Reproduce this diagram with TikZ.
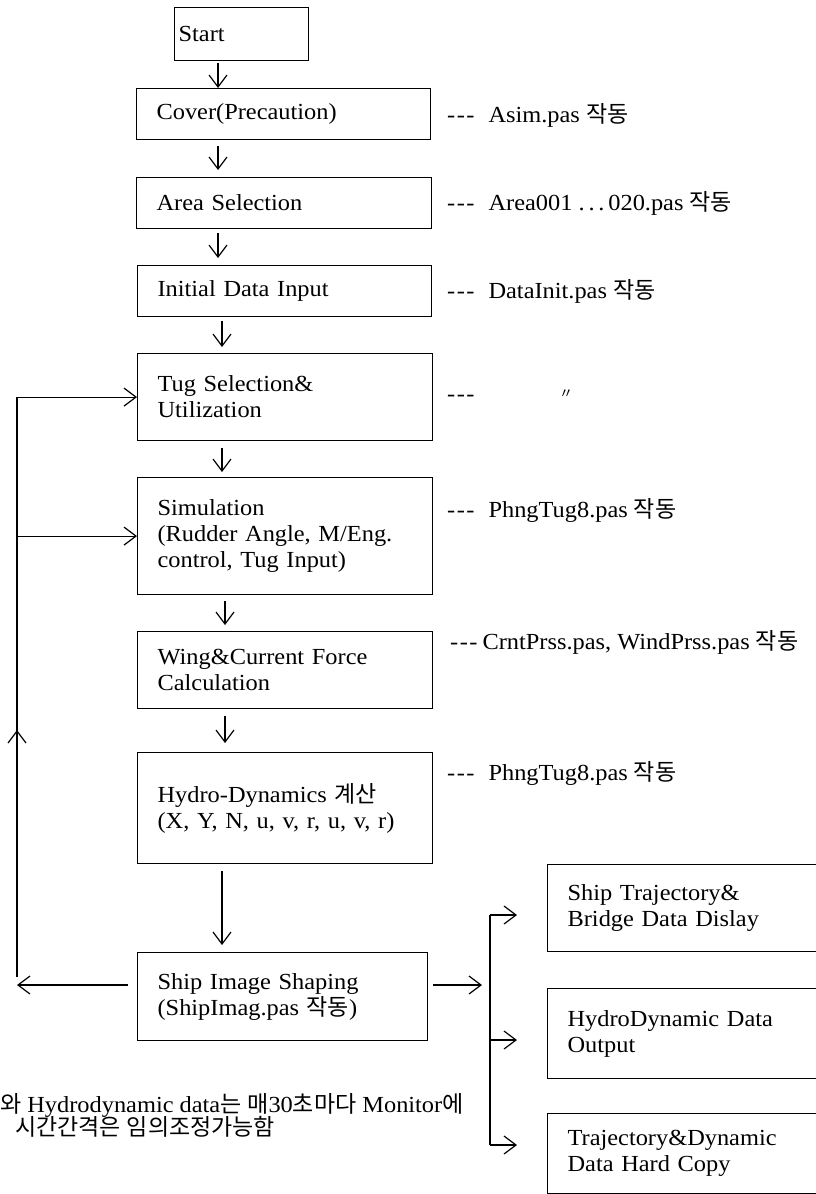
\documentclass[tikz,border=0pt]{standalone}
\usepackage{fontspec}
\setmainfont{Liberation Serif}[FakeStretch=1.06]
\newfontfamily\krfont{Noto Sans CJK KR}
\newcommand\K[1]{{\krfont #1}}
\usetikzlibrary{arrows.meta}
\newcommand\dsh{-\kern1.5pt-\kern1.5pt-}
\begin{document}
\begin{tikzpicture}[x=1pt,y=-1pt,
  lw/.style={line width=1.2pt},
  box/.style={draw, lw, anchor=north west, align=left, inner xsep=20pt, inner ysep=0pt,
    font=\fontsize{23}{26}\selectfont},
  arr/.style={lw, -{Straight Barb[length=12pt,width=18pt,line width=1.2pt]}},
  lbl/.style={anchor=base west, inner sep=0pt, font=\fontsize{23}{26}\selectfont},
  txt/.style={anchor=base west, inner sep=0pt, font=\fontsize{23}{26}\selectfont}]
\useasboundingbox (0,0) rectangle (816,1194);

% main column
\node[box, inner xsep=4pt, minimum width=134pt, minimum height=53pt, text width=126pt] (start) at (174,7) {Start};
\node[box, minimum width=294pt, minimum height=51pt, text width=254pt] (cover) at (136,88) {Cover(Precaution)};
\node[box, minimum width=295pt, minimum height=51pt, text width=255pt] (area) at (136,177) {Area Selection};
\node[box, minimum width=294pt, minimum height=51pt, text width=254pt] (init) at (137,265) {Initial Data Input};
\node[box, minimum width=295pt, minimum height=87pt, text width=255pt] (tug) at (137,353) {Tug Selection\&\\Utilization};
\node[box, minimum width=295pt, minimum height=117pt, text width=255pt] (sim) at (137,477) {Simulation\\(Rudder Angle, M/Eng.\\control, Tug Input)};
\node[box, minimum width=295pt, minimum height=77pt, text width=255pt] (wing) at (137,631) {Wing\&Current Force\\Calculation};
\node[box, minimum width=295pt, minimum height=111pt, text width=255pt] (hydro) at (137,752) {Hydro-Dynamics \K{계산}\\(X, Y, N, u, v, r, u, v, r)};
\node[box, minimum width=290pt, minimum height=88pt, text width=250pt] (ship) at (137,952) {Ship Image Shaping\\(ShipImag.pas \K{작동})};

% output boxes
\node[box, minimum width=273pt, minimum height=87pt, text width=233pt] (out1) at (547,864) {Ship Trajectory\&\\Bridge Data Dislay};
\node[box, minimum width=273pt, minimum height=90pt, text width=233pt] (out2) at (547,988) {HydroDynamic Data\\Output};
\node[box, minimum width=273pt, minimum height=80pt, text width=233pt] (out3) at (547,1113) {Trajectory\&Dynamic\\Data Hard Copy};

% side labels
\node[lbl] (l1) at (447,122) {\dsh\hspace{14pt}Asim.pas \K{작동}};
\node[lbl] (l2) at (447,210) {\dsh\hspace{14pt}Area001 .\,.\,.\,020.pas \K{작동}};
\node[lbl] (l3) at (447,298) {\dsh\hspace{14pt}DataInit.pas \K{작동}};
\node[lbl] (l4) at (447,401) {\dsh};
\node[anchor=base west, inner sep=0pt, font=\fontsize{14}{14}\selectfont] (l4b) at (559,398) {\K{〃}};
\node[lbl] (l5) at (447,517) {\dsh\hspace{14pt}PhngTug8.pas \K{작동}};
\node[lbl] (l6) at (450,649) {\dsh\hspace{5pt}CrntPrss.pas, WindPrss.pas \K{작동}};
\node[lbl] (l7) at (447,780) {\dsh\hspace{14pt}PhngTug8.pas \K{작동}};

% bottom note
\node[txt] (n1) at (0,1112) {\K{와}\hspace{6pt}Hydrodynamic\hspace{6pt}data\K{는}\hspace{6pt}\K{매}30\K{초마다}\hspace{6pt}Monitor\K{에}};
\node[txt] (n2) at (15,1135) {\K{시간간격은}\hspace{6pt}\K{임의조정가능함}};

% vertical flow arrows
\coordinate (c1) at (218,0);
\coordinate (c2) at (222,0);
\coordinate (c3) at (225,0);
\draw[arr, shorten <=2pt] (start.south -| c1) -- (cover.north -| c1);
\draw[arr, shorten <=6pt, shorten >=7pt] (cover.south -| c1) -- (area.north -| c1);
\draw[arr, shorten <=4pt, shorten >=7pt] (area.south -| c1) -- (init.north -| c1);
\draw[arr, shorten <=4pt, shorten >=6pt] (init.south -| c2) -- (tug.north -| c2);
\draw[arr, shorten <=7pt, shorten >=5pt] (tug.south -| c2) -- (sim.north -| c2);
\draw[arr, shorten <=6pt, shorten >=6pt] (sim.south -| c3) -- (wing.north -| c3);
\draw[arr, shorten <=7pt, shorten >=9pt] (wing.south -| c3) -- (hydro.north -| c3);
\draw[arr, shorten <=7pt, shorten >=7pt] (hydro.south -| c2) -- (ship.north -| c2);

% feedback loop
\coordinate (fbB) at (17,985);
\coordinate (fbV) at (17,977);
\coordinate (upA) at (17,750);
\coordinate (upT) at (17,730);
\draw[arr, shorten <=9pt] (ship.west |- fbB) -- (fbB);
\draw[arr] (fbV) -- (tug.west -| fbV) -- (tug.west);
\draw[arr] (sim.west -| fbV) -- (sim.west);
\draw[arr] (upA) -- (upT);

% outputs
\coordinate (br) at (490,985);
\coordinate (bt) at (490,915);
\coordinate (bm) at (490,1040);
\coordinate (bb) at (490,1145);
\draw[arr, shorten <=5pt, shorten >=8pt] (ship.east |- br) -- (br);
\draw[lw] (bt) -- (bb);
\draw[arr, shorten >=30pt] (bt) -- (out1.west |- bt);
\draw[arr, shorten >=30pt] (bm) -- (out2.west |- bm);
\draw[arr, shorten >=30pt] (bb) -- (out3.west |- bb);
\end{tikzpicture}
\end{document}
